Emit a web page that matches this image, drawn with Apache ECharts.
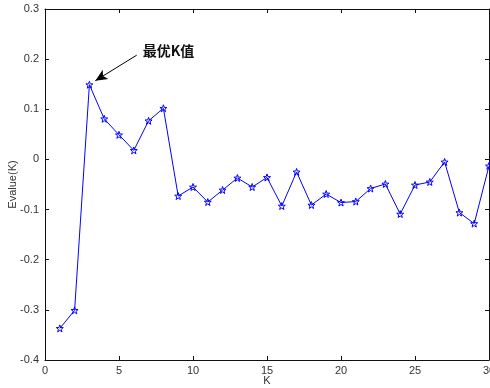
<!DOCTYPE html>
<html><head><meta charset="utf-8">
<script src="https://cdn.jsdelivr.net/npm/echarts@6/dist/echarts.min.js"></script>
<style>html,body{margin:0;padding:0;background:#fff}#c{width:490px;height:388px}</style>
</head><body><div id="c"></div>
<script>
var kValues = [1,2,3,4,5,6,7,8,9,10,11,12,13,14,15,16,17,18,19,20,21,22,23,24,25,26,27,28,29,30];
var evalues = [-0.337,-0.301,0.149,0.081,0.049,0.018,0.077,0.102,-0.073,-0.055,-0.085,-0.061,-0.037,-0.055,-0.036,-0.093,-0.025,-0.091,-0.069,-0.086,-0.084,-0.058,-0.049,-0.109,-0.051,-0.045,-0.005,-0.106,-0.128,-0.013];
var annotText = '最优K值';
var arrowFrom = [6.2, 0.208];
var arrowTo = [3.4, 0.157];
var textAt = [6.6, 0.216];

var starPath = 'path://M0,-10 L2.35,-3.24 L9.51,-3.09 L3.8,1.24 L5.88,8.09 L0,4 L-5.88,8.09 L-3.8,1.24 L-9.51,-3.09 L-2.35,-3.24 Z';
var labelFont = {fontFamily: 'Liberation Sans, Arial, sans-serif', fontSize: 11, color: '#333'};
var axisLine = {show: true, onZero: false, lineStyle: {color: '#111', width: 1}};
var tick = {show: true, inside: true, length: 4, lineStyle: {color: '#111'}};

var chart = echarts.init(document.getElementById('c'));
chart.setOption({
  animation: false,
  grid: {left: 45, right: 1, top: 9, bottom: 28, containLabel: false, outerBoundsMode: 'none'},
  xAxis: [{
    type: 'value', min: 0, max: 30, interval: 5,
    axisLine: axisLine, axisTick: tick, splitLine: {show: false},
    axisLabel: Object.assign({margin: 5}, labelFont),
    name: 'K', nameLocation: 'middle', nameGap: 15, nameMoveOverlap: false,
    nameTextStyle: labelFont
  }, {
    type: 'value', position: 'top', min: 0, max: 30, interval: 5,
    axisLine: axisLine, axisTick: tick, splitLine: {show: false},
    axisLabel: {show: false}
  }],
  yAxis: [{
    type: 'value', min: -0.4, max: 0.3, interval: 0.1,
    axisLine: axisLine, axisTick: tick, splitLine: {show: false},
    axisLabel: Object.assign({margin: 6, formatter: function(v){ return Math.abs(v) < 1e-9 ? '0' : (Math.round(v*10)/10).toString(); }}, labelFont),
    name: 'Evalue(K)', nameLocation: 'middle', nameGap: 27, nameMoveOverlap: false,
    nameTextStyle: labelFont
  }, {
    type: 'value', position: 'right', min: -0.4, max: 0.3, interval: 0.1,
    axisLine: axisLine, axisTick: tick, splitLine: {show: false},
    axisLabel: {show: false}
  }],
  series: [{
    type: 'line',
    data: kValues.map(function(k, i){ return [k, evalues[i]]; }),
    lineStyle: {color: '#0000ff', width: 1},
    symbol: starPath, symbolSize: 7, showSymbol: true,
    itemStyle: {color: 'rgba(255,255,255,0)', borderColor: '#0000ff', borderWidth: 1},
    clip: false,
    markLine: {
      silent: true, animation: false,
      symbol: ['none', 'arrow'], symbolSize: [8, 12],
      lineStyle: {color: '#000', width: 1, type: 'solid'},
      label: {show: false},
      data: [[{coord: arrowFrom}, {coord: arrowTo}]]
    },
    markPoint: {
      silent: true, animation: false,
      symbol: 'circle', symbolSize: 0,
      data: [{coord: textAt, value: annotText}],
      label: {show: true, position: 'right', distance: 0, formatter: annotText,
        fontFamily: 'Noto Sans CJK SC', fontWeight: 'bold', fontSize: 14, color: '#111'}
    }
  }]
});
</script></body></html>
